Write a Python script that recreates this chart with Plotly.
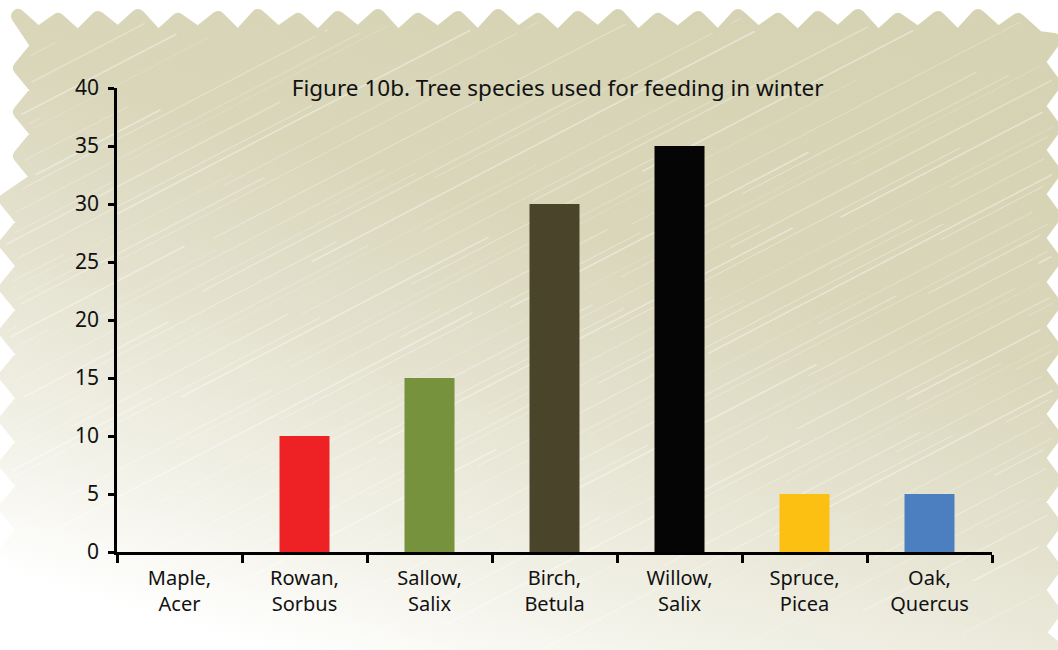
import base64
import plotly.graph_objects as go

# ---- data ----
categories = ["Maple,<br>Acer", "Rowan,<br>Sorbus", "Sallow,<br>Salix", "Birch,<br>Betula",
              "Willow,<br>Salix", "Spruce,<br>Picea", "Oak,<br>Quercus"]
values = [0, 10, 15, 30, 35, 5, 5]
bar_colors = ["#B0B0B0", "#EE2224", "#76923C", "#4A452A", "#050505", "#FCC012", "#4C7FC0"]
y_ticks = [0, 5, 10, 15, 20, 25, 30, 35, 40]
title_text = "Figure 10b. Tree species used for feeding in winter"

# ---- decorative scribble background as SVG ----
W, H = 1058, 650
pts = []
x = 18
i = 0
while x < 1045:
    y = 16 + (i % 3) * 2 if i % 2 == 0 else 32 + (i % 4) * 2
    pts.append((x, y))
    x += 20
    i += 1
y = 40
i = 0
while y < 650:
    xx = 1054 if i % 2 == 0 else 1038
    pts.append((xx, y))
    y += 22
    i += 1
pts.append((1058, 650))
pts.append((0, 650))
y = 640
i = 0
while y > 40:
    xx = 6 if i % 2 == 0 else 24
    if y < 200:
        xx += 14
    pts.append((xx, y))
    y -= 22
    i += 1
path = "M " + " L ".join(f"{a},{b}" for a, b in pts) + " Z"

stripes = []
k = 0
for off in range(-600, 1700, 11):
    x1 = off
    y1 = 660
    length = 200 + (k * 37) % 280
    x2 = x1 + length
    y2 = y1 - length * 0.52
    dy = (k * 53) % 500
    stripes.append(f'<line x1="{x1}" y1="{y1 - dy}" x2="{x2}" y2="{y2 - dy}" '
                   f'stroke="white" stroke-opacity="{0.18 + (k%3)*0.1}" stroke-width="{1 + (k%2)*0.6}" stroke-linecap="round"/>')
    k += 1

svg = f'''<svg xmlns="http://www.w3.org/2000/svg" width="{W}" height="{H}" viewBox="0 0 {W} {H}">
<defs>
<linearGradient id="g" x1="0.75" y1="0" x2="0.25" y2="1">
<stop offset="0" stop-color="#D6D3B4"/>
<stop offset="0.35" stop-color="#D9D6BA"/>
<stop offset="0.62" stop-color="#E6E4D2"/>
<stop offset="0.86" stop-color="#F5F4EC"/>
<stop offset="1" stop-color="#FFFFFF"/>
</linearGradient>
<clipPath id="c"><path d="{path}"/></clipPath>
</defs>
<path d="{path}" fill="url(#g)" stroke="url(#g)" stroke-width="14" stroke-linejoin="round"/>
<g clip-path="url(#c)">{''.join(stripes)}</g>
</svg>'''
src = "data:image/svg+xml;base64," + base64.b64encode(svg.encode()).decode()

L, R, T, B = 117, 66, 88, 98
pw, ph = W - L - R, H - T - B

fig = go.Figure(go.Bar(
    x=categories, y=values, marker=dict(color=bar_colors, line=dict(width=0)),
    width=0.4,
))

fig.add_layout_image(dict(
    source=src, xref="paper", yref="paper",
    x=-L / pw, y=1 + T / ph, sizex=W / pw, sizey=H / ph,
    xanchor="left", yanchor="top", sizing="stretch", layer="below",
))

font_family = "Noto Sans, DejaVu Sans, sans-serif"
fig.update_layout(
    width=W, height=H,
    margin=dict(l=L, r=R, t=T, b=B),
    paper_bgcolor="white", plot_bgcolor="rgba(0,0,0,0)",
    font=dict(family=font_family, size=20, color="#111111"),
    showlegend=False,
    bargap=0.6,
    title=dict(text=title_text, x=(L + pw / 2) / W + 0.003, xanchor="center",
               y=1 - 88 / H, yanchor="middle", yref="container",
               font=dict(size=22.5, color="#111111", family=font_family)),
    xaxis=dict(showline=True, linecolor="black", linewidth=2.5, ticks="outside",
               tickson="boundaries", ticklen=8, tickwidth=2.5, tickcolor="black",
               showgrid=False, tickfont=dict(size=20), ticklabelstandoff=6),
    yaxis=dict(range=[0, 40], tickvals=y_ticks, showline=True, linecolor="black",
               linewidth=2.5, ticks="outside", ticklen=6, tickwidth=2.5, tickcolor="black",
               showgrid=False, zeroline=False, tickfont=dict(size=21), ticklabelstandoff=5),
)

fig.write_html("out.html")
